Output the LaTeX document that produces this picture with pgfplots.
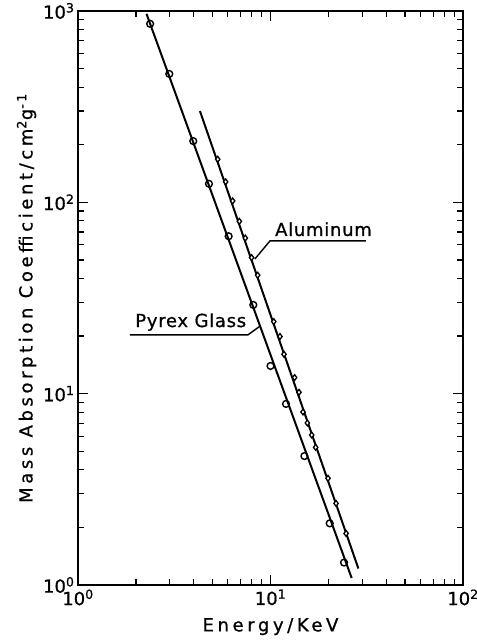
\documentclass[border=0pt]{standalone}
\usepackage{pgfplots}
\pgfplotsset{compat=1.18}
\usepackage{fontspec}
\setmainfont{DejaVu Sans}
\newfontfamily\axfont{DejaVu Sans}[LetterSpace=20, FakeBold=0.8]
\newfontfamily\curvefont{DejaVu Sans}[LetterSpace=4, FakeBold=0.8]
\newfontfamily\tickfont{DejaVu Sans}[FakeBold=0.8]

% Mass absorption coefficients (cm^2/g) against photon energy (keV)
\pgfplotstableread{
E      mu
2.37   857
2.98   469
3.97   209
4.79   125
6.06   66.5
8.14   29.1
10.0   13.96
12.04  8.84
15.0   4.72
20.3   2.10
24.1   1.31
}\pyrex

\pgfplotstableread{
E      mu
5.32   168
5.85   128
6.36   101.7
6.89   79.6
7.40   65.1
7.98   51.4
8.58   41.6
10.4   23.8
11.2   19.9
11.75  16.07
13.35  12.14
14.06  10.17
14.75  8.02
15.54  7.03
16.37  6.08
17.17  5.24
19.9   3.61
21.9   2.67
24.7   1.86
}\aluminum

\begin{document}
\begin{tikzpicture}
\useasboundingbox (-78bp,-57bp) rectangle (399bp,585bp);
\begin{axis}[
  at={(0,0)}, anchor=south west,
  scale only axis,
  width=385bp, height=574bp,
  xmode=log, ymode=log,
  xmin=1, xmax=100, ymin=1, ymax=1000,
  axis line style={line width=1.8bp},
  tick align=inside,
  xtick pos=both, ytick pos=both,
  major tick style={black, line width=1.4bp},
  minor tick style={black, line width=1.2bp},
  major tick length=10bp,
  minor tick length=6bp,
  xtick={1,10,100},
  minor xtick={2,3,4,5,6,7,8,9,20,30,40,50,60,70,80,90},
  xticklabels={{10\textsuperscript{0}},{10\textsuperscript{1}},{10\textsuperscript{2}}},
  ytick={1,10,100,1000},
  minor ytick={2,3,4,5,6,7,8,9,20,30,40,50,60,70,80,90,200,300,400,500,600,700,800,900},
  yticklabels={{10\textsuperscript{0}},{10\textsuperscript{1}},{10\textsuperscript{2}},{10\textsuperscript{3}}},
  tick label style={font=\tickfont\fontsize{18bp}{21bp}\selectfont},
  xticklabel style={yshift=-1bp},
  xlabel={Energy/KeV},
  ylabel={Mass Absorption Coefficient/cm\textsuperscript{2}g\textsuperscript{-1}},
  label style={font=\axfont\fontsize{18bp}{21bp}\selectfont},
  xlabel style={yshift=-6bp},
  ylabel style={yshift=0bp},
  clip=false,
]
% fitted lines
\addplot[black, line width=2bp] coordinates {(2.27,966) (26.4,1.088)};
\addplot[black, line width=2bp] coordinates {(4.30,300) (28.6,1.22)};
% measured points
\addplot[only marks, mark=o, mark size=3.4bp, mark options={fill=white, line width=1.4bp}] table[x=E, y=mu] {\pyrex};
\addplot[only marks, mark=diamond*, mark size=2.9bp, mark options={fill=white, draw=black, line width=1.3bp}] table[x=E, y=mu] {\aluminum};
% curve labels with leaders
\draw[line width=1.4bp] (axis cs:8.30,50.6) -- (axis cs:9.94,62.9) -- (axis cs:31.3,62.9);
\node[anchor=base west, inner sep=0pt, font=\curvefont\fontsize{18bp}{21bp}\selectfont] at (axis cs:10.55,66.7) {Aluminum};
\draw[line width=1.4bp] (axis cs:8.8,22.5) -- (axis cs:7.64,20.3) -- (axis cs:1.86,20.3);
\node[anchor=base west, inner sep=0pt, font=\curvefont\fontsize{18bp}{21bp}\selectfont] at (axis cs:1.98,22.3) {Pyrex Glass};
\end{axis}
\end{tikzpicture}
\end{document}
